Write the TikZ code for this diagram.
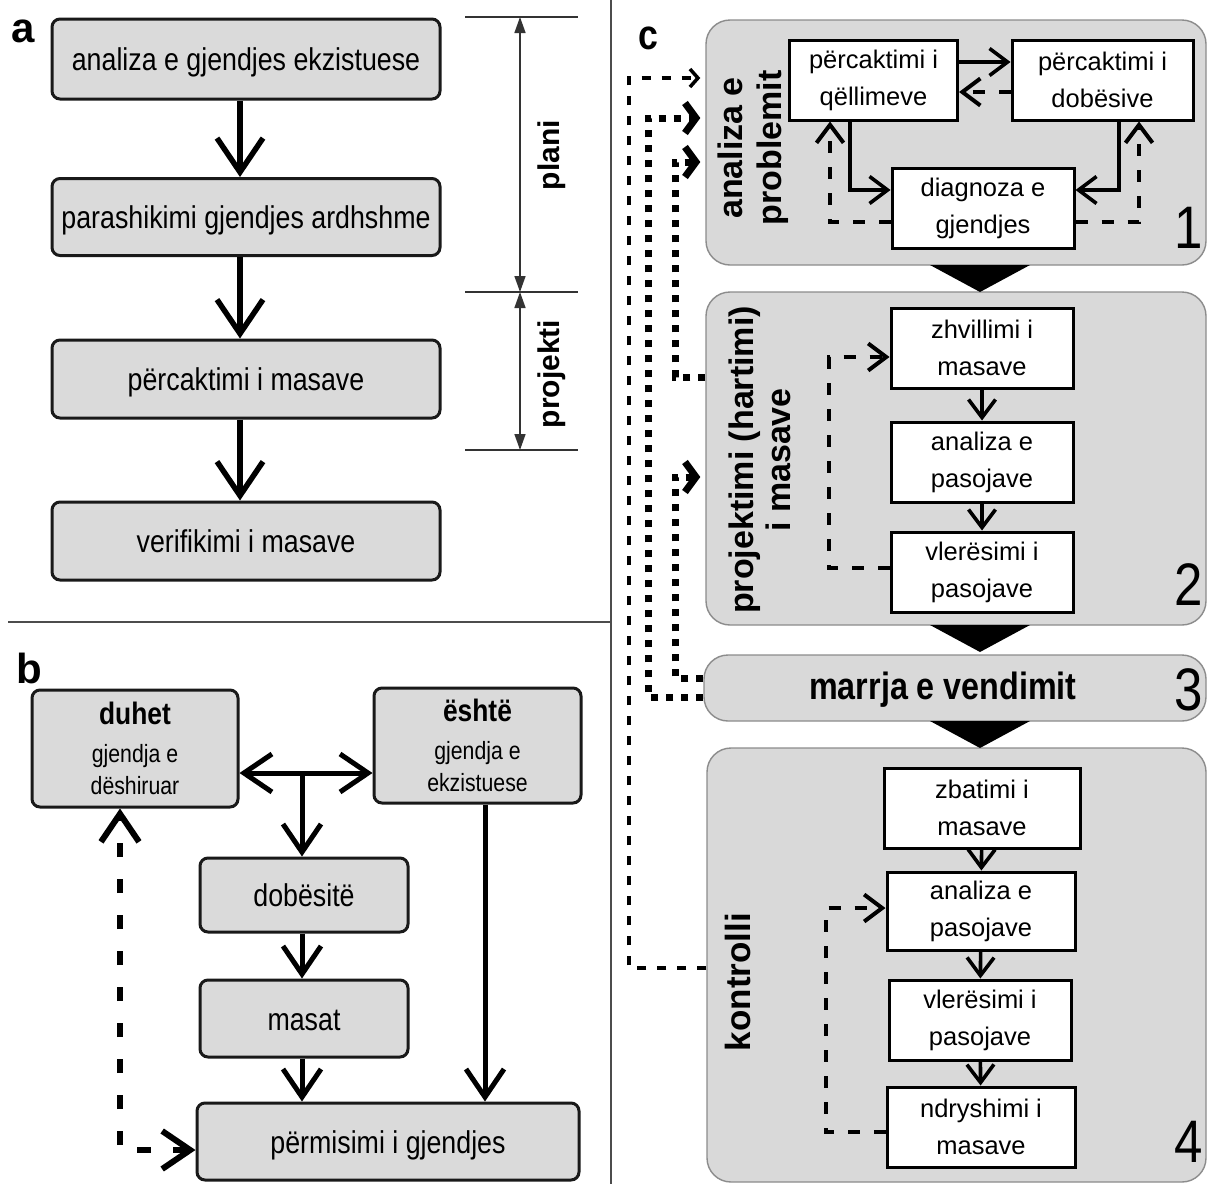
\documentclass[tikz,border=0pt]{standalone}
\usepackage{fontspec}
\setmainfont{Liberation Sans}
\newfontfamily\nar{Liberation Sans}[FakeStretch=0.85]
\usetikzlibrary{arrows.meta}
\definecolor{boxgray}{RGB}{218,218,218}
\definecolor{panelgray}{RGB}{217,217,217}
\begin{document}
\begin{tikzpicture}[x=1pt,y=-1pt,
  gbox/.style={draw=black!90, line width=3, rounded corners=8, fill=boxgray, inner sep=0, align=center},
  wbox/.style={draw=black, line width=3, fill=white, inner sep=0, align=center, font=\fontsize{25.5}{37}\selectfont},
  panel/.style={draw=black!45, line width=1.4, rounded corners=24, fill=panelgray, inner sep=0},
  afont/.style={font=\nar\fontsize{31.5}{38}\selectfont, text height=24pt, text depth=1pt},
  rlab/.style={rotate=90, align=center, inner sep=0},
  plab/.style={font=\bfseries\fontsize{42}{42}\selectfont, inner sep=0},
  numlab/.style={font=\nar\fontsize{60}{60}\selectfont, inner sep=0},
  aarr/.style={line width=5.5, -{Straight Barb[length=34pt,width=46pt]}},
  barr/.style={line width=5, -{Straight Barb[length=28pt,width=38pt]}},
  bdash/.style={line width=6, dash pattern=on 14pt off 22pt, {Straight Barb[length=28pt,width=38pt]}-{Straight Barb[length=28pt,width=38pt]}},
  sarr/.style={line width=3.6, -{Straight Barb[length=18pt,width=27pt]}},
  sdash/.style={sarr, line width=4, dash pattern=on 12pt off 14pt},
  thindot/.style={line width=3.5, dash pattern=on 9pt off 11pt, -{Straight Barb[length=8pt,width=18pt]}},
  thickdot/.style={line width=7, dash pattern=on 7pt off 8pt, -{Straight Barb[length=11pt,width=30pt]}},
  thinl/.style={line width=1.5, draw=black!80},
  tri/.style={fill=black}
]
\useasboundingbox (0,0) rectangle (1208,1184);
\fill[white] (0,0) rectangle (1208,1184);

% dividers
\draw[line width=2, black!70] (611,0) -- (611,1184);
\draw[line width=2, black!70] (8,622) -- (611,622);

% ================= panel a =================
\node[plab] (la) at (23,31) {a};
\node[gbox, afont, minimum width=388, minimum height=80] (a1) at (246,59) {analiza e gjendjes ekzistuese};
\node[gbox, afont, minimum width=388, minimum height=77] (a2) at (246,217) {parashikimi gjendjes ardhshme};
\node[gbox, afont, minimum width=388, minimum height=78] (a3) at (246,379) {përcaktimi i masave};
\node[gbox, afont, minimum width=388, minimum height=78] (a4) at (246,541) {verifikimi i masave};
\draw[aarr] ([xshift=-6]a1.south) -- ([xshift=-6]a2.north);
\draw[aarr] ([xshift=-6]a2.south) -- ([xshift=-6]a3.north);
\draw[aarr] ([xshift=-6]a3.south) -- ([xshift=-6]a4.north);

\coordinate (t0) at (520,17);
\coordinate (t1) at (520,292);
\coordinate (t2) at (520,450);
\draw[thinl] (465,17) -- (578,17);
\draw[thinl] (465,292) -- (578,292);
\draw[thinl] (465,450) -- (578,450);
\draw[thinl, {Triangle[length=16pt,width=11pt]}-{Triangle[length=16pt,width=11pt]}] (t0) -- (t1);
\draw[thinl, {Triangle[length=16pt,width=11pt]}-{Triangle[length=16pt,width=11pt]}] (t1) -- (t2);
\node[rlab, font=\bfseries\fontsize{30}{30}\selectfont] (plani) at (552,155) {plani};
\node[rlab, font=\bfseries\fontsize{30}{30}\selectfont] (proj) at (552,374) {projekti};

% ================= panel b =================
\node[plab] (lb) at (29,668) {b};
\node[gbox, font=\nar\fontsize{25}{32}\selectfont, minimum width=206, minimum height=117] (duhet) at (135,748.5)
  {{\bfseries\fontsize{31}{32}\selectfont duhet}\\[6pt]gjendja e\\dëshiruar};
\node[gbox, font=\nar\fontsize{25}{32}\selectfont, minimum width=207, minimum height=115] (esht) at (477.5,745.5)
  {{\bfseries\fontsize{31}{32}\selectfont është}\\[6pt]gjendja e\\ekzistuese};
\node[gbox, afont, minimum width=208, minimum height=74] (dob) at (304,895) {dobësitë};
\node[gbox, afont, minimum width=208, minimum height=77] (masat) at (304,1018.5) {masat};
\node[gbox, afont, minimum width=382, minimum height=77] (perm) at (388,1141.5) {përmisimi i gjendjes};
\coordinate (jn) at (302,773);
\draw[barr] (jn) -- (duhet.east |- jn);
\draw[barr] (jn) -- (esht.west |- jn);
\draw[barr] (jn) -- (dob.north -| jn);
\draw[barr] (dob.south -| jn) -- (masat.north -| jn);
\draw[barr] (masat.south -| jn) -- (perm.north -| jn);
\draw[barr] (esht.south -| 485,0) -- (perm.north -| 485,0);
\draw[bdash] (perm.west |- 0,1150) -| (duhet.south -| 120,0);

% ================= panel c =================
\node[plab, font=\nar\bfseries\fontsize{42}{42}\selectfont] (lc) at (648,38) {c};
\node[panel, minimum width=500, minimum height=245] (p1) at (956,142.5) {};
\node[panel, minimum width=500, minimum height=333] (p2) at (956,458.5) {};
\node[panel, minimum width=502, minimum height=66] (p3) at (955,688) {};
\node[panel, minimum width=499, minimum height=434] (p4) at (956.5,965) {};

\fill[tri] (930,265) -- (1030,265) -- (980,292) -- cycle;
\fill[tri] (930,625) -- (1030,625) -- (980,652) -- cycle;
\fill[tri] (930,721) -- (1030,721) -- (980,748) -- cycle;

% box 1
\node[rlab, font=\bfseries\fontsize{34}{39}\selectfont] (l1) at (753,148) {analiza e\\problemit};
\node[wbox, minimum width=168, minimum height=80] (g1) at (873.5,80) {përcaktimi i\\qëllimeve};
\node[wbox, minimum width=181, minimum height=80] (d1) at (1102.5,80) {përcaktimi i\\dobësive};
\node[wbox, minimum width=182, minimum height=80] (dg) at (983,208) {diagnoza e\\gjendjes};
\draw[sarr] (g1.east |- 0,62) -- (d1.west |- 0,62);
\draw[sdash] (d1.west |- 0,92) -- (g1.east |- 0,92);
\draw[sarr] (g1.south -| 850,0) |- (dg.west |- 0,190);
\draw[sarr] (d1.south -| 1119,0) |- (dg.east |- 0,190);
\draw[sdash] (dg.west |- 0,222) -| (g1.south -| 830,0);
\draw[sdash] (dg.east |- 0,222) -| (d1.south -| 1139,0);
\node[numlab] (n1) at (1189,228) {1};

% box 2
\node[rlab, font=\bfseries\fontsize{34}{37}\selectfont] (l2) at (760,460) {projektimi (hartimi)\\i masave};
\node[wbox, minimum width=182, minimum height=80] (z2) at (982,348) {zhvillimi i\\masave};
\node[wbox, minimum width=182, minimum height=80] (an2) at (982,462) {analiza e\\pasojave};
\node[wbox, minimum width=182, minimum height=80] (vl2) at (982,572) {vlerësimi i\\pasojave};
\draw[sarr] (z2) -- (an2);
\draw[sarr] (an2) -- (vl2);
\draw[sdash] (vl2.west |- 0,568) -| (829,357) -- (z2.west |- 0,357);
\node[numlab] (n2) at (1189,585) {2};

% box 3
\node[font=\nar\bfseries\fontsize{38}{38}\selectfont, inner sep=0] (m3) at (943,690) {marrja e vendimit};
\node[numlab] (n3) at (1189,690) {3};

% box 4
\node[rlab, font=\bfseries\fontsize{35}{35}\selectfont] (l4) at (738,982) {kontrolli};
\node[wbox, minimum width=196, minimum height=80] (zb) at (982,808) {zbatimi i\\masave};
\node[wbox, minimum width=188, minimum height=78] (an4) at (981,911) {analiza e\\pasojave};
\node[wbox, minimum width=182, minimum height=80] (vl4) at (980,1020) {vlerësimi i\\pasojave};
\node[wbox, minimum width=188, minimum height=80] (nd4) at (981,1127) {ndryshimi i\\masave};
\draw[sarr] (zb) -- (an4);
\draw[sarr] (an4) -- (vl4);
\draw[sarr] (vl4) -- (nd4);
\draw[sdash] (nd4.west |- 0,1132) -| (826,908) -- (an4.west |- 0,908);
\node[numlab] (n4) at (1189,1142) {4};

% feedback lines
\draw[thindot] (p4.west |- 0,968) -| (629,78) -- ([xshift=-5]p1.west |- 0,78);
\draw[thickdot] (p3.west |- 0,697) -| (648,118) -- ([xshift=-5]p1.west |- 0,118);
\draw[thickdot] (p2.west |- 0,377) -| (675,162) -- ([xshift=-5]p1.west |- 0,162);
\draw[thickdot] (p3.west |- 0,678) -| (675,477) -- ([xshift=-5]p2.west |- 0,477);
\end{tikzpicture}
\end{document}
